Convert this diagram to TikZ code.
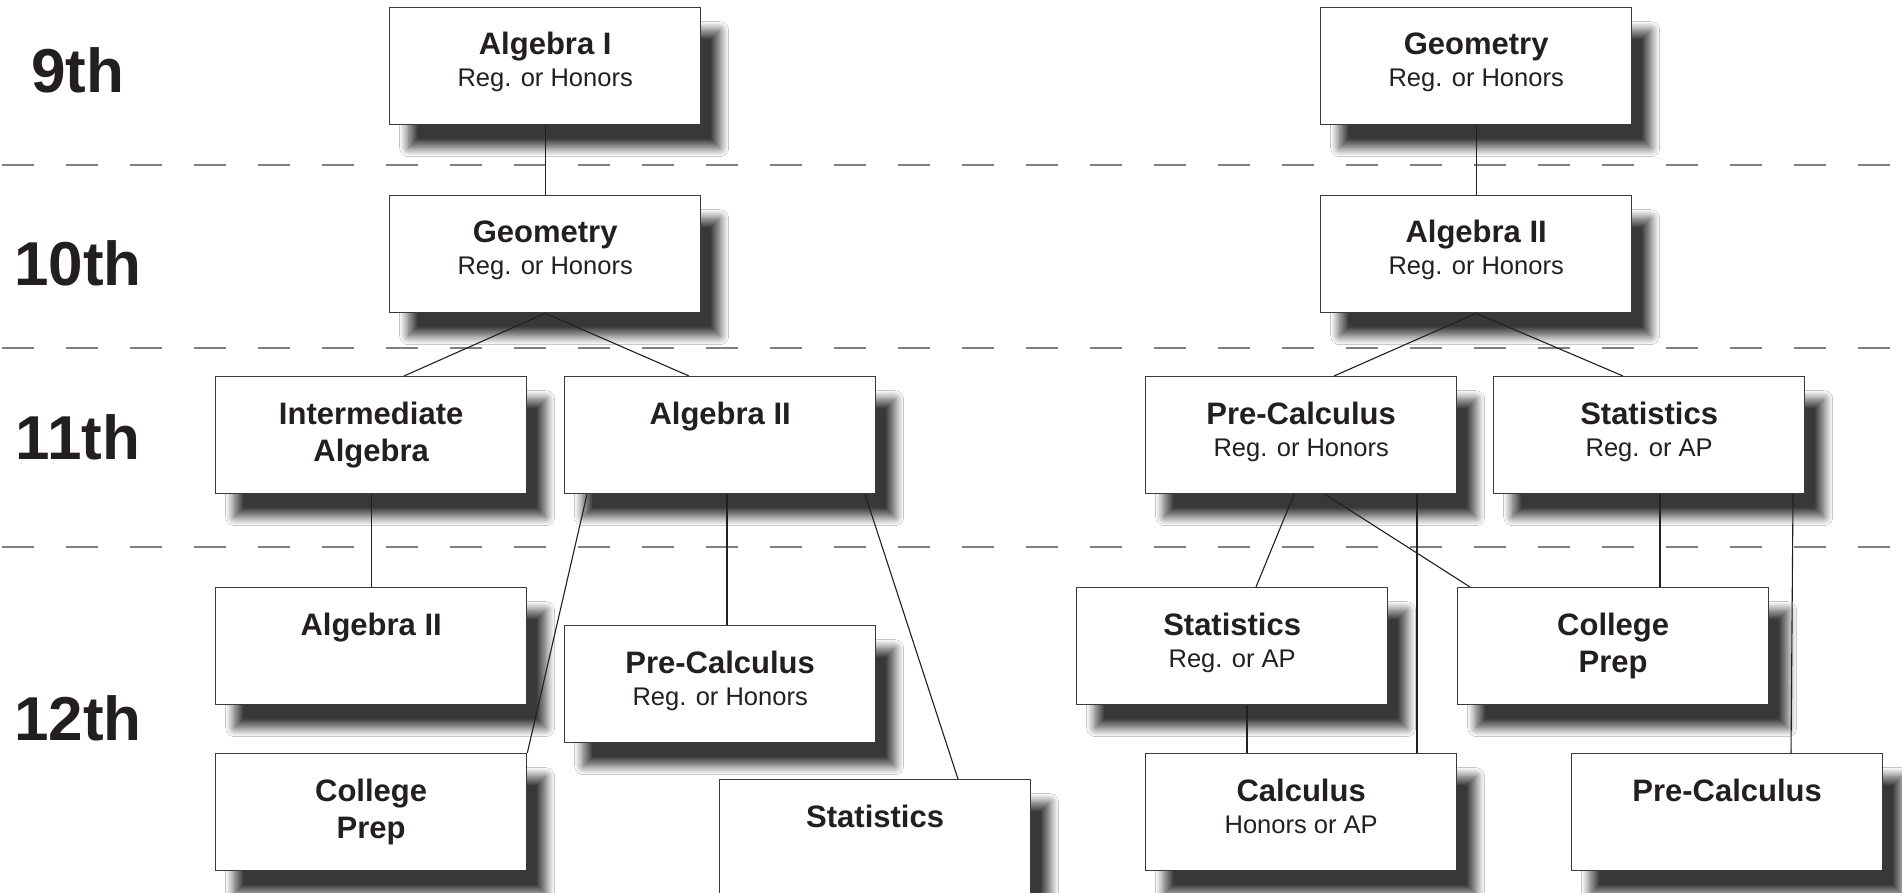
\documentclass[tikz,border=0pt]{standalone}
\usepackage{fontspec}
\setmainfont{Liberation Sans}
\usetikzlibrary{calc,shadows.blur}
\definecolor{ink}{HTML}{231F20}
\definecolor{edge}{HTML}{3A3A3A}
\definecolor{sep}{HTML}{7F7F7F}
% name, x, y, title, subtitle (may be empty)
\newcommand\course[5]{%
  \node[box,anchor=north west] (#1) at (#2,#3) {};
  \node[ttl,anchor=base] (#1-a) at ($(#1.north)+(0,48)$) {#4};
  \ifx&#5&\else
    \node[sub,anchor=base] (#1-b) at ($(#1.north)+(0,80)$) {#5};
  \fi
}
% name, x, y, bold line 1, bold line 2
\newcommand\coursetwo[5]{%
  \node[box,anchor=north west] (#1) at (#2,#3) {};
  \node[ttl,anchor=base] (#1-a) at ($(#1.north)+(0,48)$) {#4};
  \node[ttl,anchor=base] (#1-b) at ($(#1.north)+(0,85)$) {#5};
}
\begin{document}
\begin{tikzpicture}[x=1pt,y=-1pt,
  box/.style={draw=edge, line width=1.3pt, fill=white, minimum width=311pt,
    minimum height=117pt, inner sep=0pt,
    blur shadow={shadow xshift=19pt, shadow yshift=-23pt, shadow blur radius=9pt,
      shadow blur steps=16, shadow opacity=78}},
  ttl/.style={font=\fontsize{31}{37}\selectfont\bfseries, text=ink, inner sep=0pt},
  sub/.style={font=\fontsize{25.5}{30}\selectfont, text=ink, inner sep=0pt},
  grade/.style={font=\fontsize{62}{70}\selectfont\bfseries, text=ink, inner sep=0pt, anchor=base},
  sepline/.style={draw=sep, line width=1.4pt, dash pattern=on 32pt off 32pt, dash phase=62pt},
  conn/.style={draw=ink, line width=1.1pt}]
\useasboundingbox[fill=white] (0,0) rectangle (1902,893);

% grade separators
\draw[sepline] (0,165) -- (1902,165);
\draw[sepline] (0,348) -- (1902,348);
\draw[sepline] (0,547) -- (1902,547);

% grade labels
\node[grade] (g9)  at (78,93)  {9th};
\node[grade] (g10) at (78,285) {10th};
\node[grade] (g11) at (78,459) {11th};
\node[grade] (g12) at (78,740) {12th};

% left tree
\course{a1}{389}{7}{Algebra I}{Reg. or Honors}
\course{geo}{389}{195}{Geometry}{Reg. or Honors}
\coursetwo{ia}{215}{376}{Intermediate}{Algebra}
\course{a2l}{564}{376}{Algebra II}{}
\course{a2b}{215}{587}{Algebra II}{}
\course{pc12}{564}{625}{Pre-Calculus}{Reg. or Honors}
\coursetwo{cp}{215}{753}{College}{Prep}
\course{st}{719}{779}{Statistics}{}

% right tree
\course{geor}{1320}{7}{Geometry}{Reg. or Honors}
\course{a2r}{1320}{195}{Algebra II}{Reg. or Honors}
\course{pcr}{1145}{376}{Pre-Calculus}{Reg. or Honors}
\course{str}{1493}{376}{Statistics}{Reg. or AP}
\course{st12r}{1076}{587}{Statistics}{Reg. or AP}
\coursetwo{cpr}{1457}{587}{College}{Prep}
\course{calc}{1145}{753}{Calculus}{Honors or AP}
\course{pc12r}{1571}{753}{Pre-Calculus}{}

% connectors, left
\draw[conn] (a1.south) -- (geo.north);
\draw[conn] (geo.south) -- ($(ia.north west)+(189,0)$);
\draw[conn] (geo.south) -- ($(a2l.north west)+(125,0)$);
\draw[conn] (ia.south) -- (a2b.north);
\draw[conn] ($(a2l.south west)+(23,0)$) -- (cp.north east);
\draw[conn] ($(a2l.south west)+(163,0)$) -- ($(pc12.north west)+(163,0)$);
\draw[conn] ($(a2l.south west)+(301,0)$) -- ($(st.north west)+(239,0)$);

% connectors, right
\draw[conn] (geor.south) -- (a2r.north);
\draw[conn] (a2r.south) -- ($(pcr.north west)+(189,0)$);
\draw[conn] (a2r.south) -- ($(str.north west)+(130,0)$);
\draw[conn] ($(pcr.south west)+(149,0)$) -- ($(st12r.north west)+(180,0)$);
\draw[conn] ($(pcr.south west)+(180,0)$) -- ($(cpr.north west)+(13,0)$);
\draw[conn] ($(pcr.south west)+(272,0)$) -- ($(calc.north west)+(272,0)$);
\draw[conn] ($(str.south west)+(167,0)$) -- ($(cpr.north west)+(203,0)$);
\draw[conn] ($(str.south west)+(300,0)$) -- ($(pc12r.north west)+(220,0)$);
\draw[conn] ($(st12r.south west)+(171,0)$) -- ($(calc.north west)+(102,0)$);
\end{tikzpicture}
\end{document}
